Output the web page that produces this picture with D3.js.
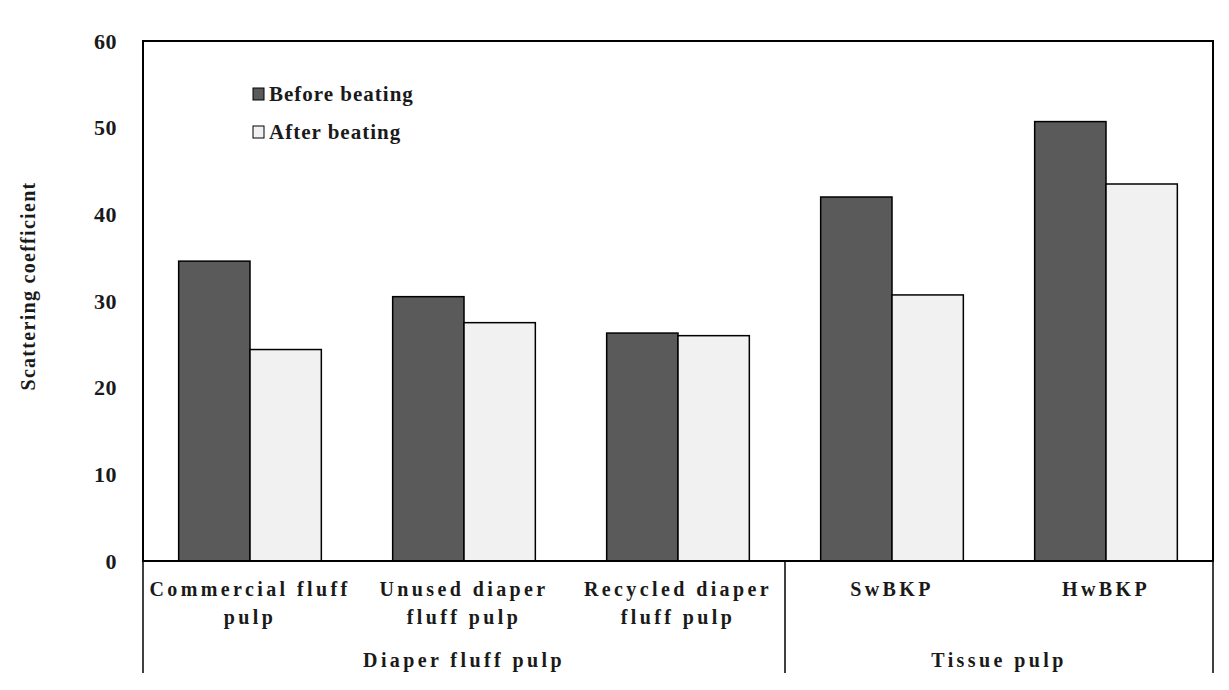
<!DOCTYPE html>
<html>
<head>
<meta charset="utf-8">
<script src="https://cdn.jsdelivr.net/npm/d3@7"></script>
<style>
  body { margin: 0; background: #fff; }
  text { font-family: "Liberation Serif", "Times New Roman", serif; font-weight: bold; fill: #1a1a1a; }
</style>
</head>
<body>
<div id="chart"></div>
<script>
// data
var categories = ["Commercial fluff|pulp", "Unused diaper|fluff pulp", "Recycled diaper|fluff pulp", "SwBKP", "HwBKP"];
var groups = ["Diaper fluff pulp", "Tissue pulp"];
var groupSizes = [3, 2];
var series = ["Before beating", "After beating"];
var beforeValues = [34.6, 30.5, 26.3, 42.0, 50.7];
var afterValues = [24.4, 27.5, 26.0, 30.7, 43.5];
var yTicks = [0, 10, 20, 30, 40, 50, 60];

const WIDTH = 1229, HEIGHT = 690;
const margin = {left: 143, top: 41, right: 16, bottom: 129};
const innerW = WIDTH - margin.left - margin.right;
const innerH = HEIGHT - margin.top - margin.bottom;

const svg = d3.select("#chart").append("svg")
  .attr("width", WIDTH)
  .attr("height", HEIGHT);

const g = svg.append("g")
  .attr("transform", "translate(" + margin.left + "," + margin.top + ")");

const x = d3.scaleBand().domain(d3.range(categories.length)).range([0, innerW]);
const xInner = d3.scaleBand().domain(series).range([x.bandwidth() / 6, x.bandwidth() * 5 / 6]);
const y = d3.scaleLinear().domain([0, 60]).range([innerH, 0]);
const color = d3.scaleOrdinal().domain(series).range(["#5a5a5a", "#f1f1f1"]);

var rows = categories.map(function(c, i) {
  return {i: i, vals: [beforeValues[i], afterValues[i]]};
});

// bars
var cat = g.selectAll(".cat")
  .data(rows)
  .enter().append("g")
  .attr("transform", function(d) { return "translate(" + x(d.i) + ",0)"; });

cat.selectAll("rect")
  .data(function(d) { return d.vals.map(function(v, k) { return {s: series[k], v: v}; }); })
  .enter().append("rect")
  .attr("x", function(d) { return xInner(d.s); })
  .attr("width", xInner.bandwidth())
  .attr("y", function(d) { return y(d.v); })
  .attr("height", function(d) { return innerH - y(d.v); })
  .attr("fill", function(d) { return color(d.s); })
  .attr("stroke", "#000")
  .attr("stroke-width", 1.5);

// frame
g.append("rect")
  .attr("width", innerW).attr("height", innerH)
  .attr("fill", "none").attr("stroke", "#000").attr("stroke-width", 2);

// y ticks labels
g.selectAll(".ytick")
  .data(yTicks)
  .enter().append("text")
  .attr("x", -26)
  .attr("y", function(d) { return y(d); })
  .attr("dy", "0.35em")
  .attr("text-anchor", "end")
  .style("font-size", "22px")
  .style("letter-spacing", "0.5px")
  .text(function(d) { return d; });

// y title
svg.append("text")
  .attr("transform", "translate(35," + (margin.top + innerH / 2 - 15) + ") rotate(-90)")
  .attr("text-anchor", "middle")
  .style("font-size", "20px")
  .style("letter-spacing", "1.3px")
  .text("Scattering coefficient");

// group separators under axis
var bounds = [0];
groupSizes.forEach(function(n, k) { bounds.push(bounds[k] + n); });
g.selectAll(".sep")
  .data(bounds)
  .enter().append("line")
  .attr("x1", function(d) { return d < categories.length ? x(d) : innerW; })
  .attr("x2", function(d) { return d < categories.length ? x(d) : innerW; })
  .attr("y1", innerH)
  .attr("y2", innerH + 112)
  .attr("stroke", "#000")
  .attr("stroke-width", 1.5);

// category labels
var lab = g.selectAll(".clab")
  .data(categories)
  .enter().append("text")
  .attr("text-anchor", "middle")
  .style("font-size", "20px")
  .style("letter-spacing", "3.4px");

lab.selectAll("tspan")
  .data(function(d, i) { return d.split("|").map(function(t) { return {t: t, i: i}; }); })
  .enter().append("tspan")
  .attr("x", function(d) { return x(d.i) + x.bandwidth() / 2; })
  .attr("y", function(d, j) { return innerH + 35 + j * 28; })
  .text(function(d) { return d.t; });

// group labels
g.selectAll(".glab")
  .data(groups)
  .enter().append("text")
  .attr("x", function(d, k) {
    var a = x(bounds[k]);
    var b = bounds[k + 1] < categories.length ? x(bounds[k + 1]) : innerW;
    return (a + b) / 2;
  })
  .attr("y", innerH + 106)
  .attr("text-anchor", "middle")
  .style("font-size", "20px")
  .style("letter-spacing", "3.4px")
  .text(function(d) { return d; });

// legend
var leg = g.selectAll(".leg")
  .data(series)
  .enter().append("g")
  .attr("transform", function(d, k) { return "translate(110," + (53 + k * 38) + ")"; });

leg.append("rect")
  .attr("x", 0).attr("y", -6)
  .attr("width", 11).attr("height", 12)
  .attr("fill", function(d) { return color(d); })
  .attr("stroke", "#000").attr("stroke-width", 1);

leg.append("text")
  .attr("x", 16)
  .attr("dy", "0.35em")
  .style("font-size", "21px")
  .style("letter-spacing", "1px")
  .text(function(d) { return d; });
</script>
</body>
</html>
